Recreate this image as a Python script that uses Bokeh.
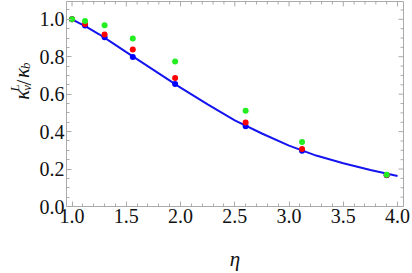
import math
from bokeh.plotting import figure
from bokeh.models import Range1d, FixedTicker, PrintfTickFormatter, LinearAxis, Label
from bokeh.layouts import row
from bokeh.embed import file_html
from bokeh.resources import INLINE

# ---- data ----
eta_pts = [1.0, 1.12, 1.30, 1.56, 1.95, 2.60, 3.12, 3.90]
kappa_blue = [1.0, 0.967, 0.904, 0.798, 0.654, 0.428, 0.298, 0.167]
kappa_red = [1.0, 0.975, 0.919, 0.839, 0.686, 0.449, 0.307, 0.168]
kappa_green = [1.0, 0.991, 0.968, 0.898, 0.774, 0.512, 0.344, 0.170]

curve_eta = [1.0, 1.125, 1.25, 1.375, 1.5, 1.75, 2.0, 2.25, 2.5, 2.75, 3.0, 3.25, 3.5, 3.75, 4.0]
curve_kappa = [1.0, 0.962, 0.92, 0.873, 0.825, 0.73, 0.635, 0.545, 0.46, 0.39, 0.325, 0.272, 0.231, 0.195, 0.163]

x_ticks = [1.0, 1.5, 2.0, 2.5, 3.0, 3.5, 4.0]
x_minor = [1.1, 1.2, 1.3, 1.4, 1.6, 1.7, 1.8, 1.9, 2.1, 2.2, 2.3, 2.4, 2.6, 2.7, 2.8, 2.9,
           3.1, 3.2, 3.3, 3.4, 3.6, 3.7, 3.8, 3.9]
y_ticks = [0.0, 0.2, 0.4, 0.6, 0.8, 1.0]
y_minor = [0.05, 0.1, 0.15, 0.25, 0.3, 0.35, 0.45, 0.5, 0.55, 0.65, 0.7, 0.75,
           0.85, 0.9, 0.95, 1.05]

X0, X1 = 0.949, 4.055
Y0, Y1 = 0.0, 1.095
FRAME = "#aaaaaa"
SERIF = "Liberation Serif"
TXT = "#111111"
TITLE_W = 34
H = 273

# ---------------- main plot ----------------
p = figure(width=412 - TITLE_W, height=H, output_backend="svg", toolbar_location=None,
           x_range=Range1d(X0, X1), y_range=Range1d(Y0, Y1),
           x_axis_type=None, y_axis_type=None,
           min_border_left=66 - TITLE_W, min_border_right=9, min_border_top=1, min_border_bottom=64)
p.outline_line_color = FRAME
p.background_fill_color = "white"
p.border_fill_color = "white"


def make_axis(ticks, minor, label=""):
    ax = LinearAxis(ticker=FixedTicker(ticks=ticks, minor_ticks=minor),
                    formatter=PrintfTickFormatter(format="%.1f"))
    ax.axis_line_color = FRAME
    ax.major_tick_line_color = FRAME
    ax.minor_tick_line_color = FRAME
    ax.major_tick_in = 5
    ax.major_tick_out = 0
    ax.minor_tick_in = 3
    ax.minor_tick_out = 0
    ax.major_label_text_font = SERIF
    ax.major_label_text_font_size = "20px"
    ax.major_label_text_color = TXT
    ax.major_label_standoff = 2
    if label:
        ax.axis_label = label
        ax.axis_label_text_font = SERIF
        ax.axis_label_text_font_style = "italic"
        ax.axis_label_text_font_size = "21px"
        ax.axis_label_text_color = TXT
        ax.axis_label_standoff = 21
    return ax


p.add_layout(make_axis(x_ticks, x_minor, "η"), "below")
p.add_layout(make_axis(y_ticks, y_minor), "left")

p.xgrid.visible = False
p.ygrid.visible = False

# inward ticks on the top and right frame edges (5 px major, 3 px minor)
px_x = (X1 - X0) / 337.0
px_y = (Y1 - Y0) / 208.0
p.segment(x0=x_ticks, y0=[Y1] * len(x_ticks), x1=x_ticks, y1=[Y1 - 5 * px_y] * len(x_ticks),
          line_color=FRAME, line_width=1)
p.segment(x0=x_minor, y0=[Y1] * len(x_minor), x1=x_minor, y1=[Y1 - 3 * px_y] * len(x_minor),
          line_color=FRAME, line_width=1)
p.segment(x0=[X1] * len(y_ticks), y0=y_ticks, x1=[X1 - 5 * px_x] * len(y_ticks), y1=y_ticks,
          line_color=FRAME, line_width=1)
p.segment(x0=[X1] * len(y_minor), y0=y_minor, x1=[X1 - 3 * px_x] * len(y_minor), y1=y_minor,
          line_color=FRAME, line_width=1)

p.line(curve_eta, curve_kappa, line_color="#1414f0", line_width=2)
p.scatter(eta_pts, kappa_blue, size=6, fill_color="#0000ff", line_color=None)
p.scatter(eta_pts, kappa_red, size=6, fill_color="#ff0000", line_color=None)
p.scatter(eta_pts, kappa_green, size=6, fill_color="#22ee22", line_color=None)

# ---------------- y-axis title panel:  κ_v^L / κ_b ----------------
t = figure(width=TITLE_W, height=H, output_backend="svg", toolbar_location=None,
           x_range=Range1d(0, TITLE_W), y_range=Range1d(0, H),
           x_axis_type=None, y_axis_type=None, min_border=0)
t.outline_line_color = None
t.background_fill_color = "white"
t.border_fill_color = "white"
t.xgrid.visible = False
t.ygrid.visible = False

# (text, pixel x of baseline, pixel y from top where the glyph starts, size, style)
pieces = [
    ("κ", 21, 131, "21px", "italic"),
    ("v", 26, 119, "13px", "italic"),
    ("L", 14, 120, "13px", "italic"),
    ("/", 23, 112, "21px", "normal"),
    ("κ", 21, 102, "21px", "italic"),
    ("b", 25, 90, "13px", "italic"),
]
for txt, bx, ty, fs, style in pieces:
    t.add_layout(Label(x=bx, y=H - ty, text=txt, angle=math.pi / 2,
                       text_font=SERIF, text_font_size=fs, text_font_style=style,
                       text_color=TXT, text_align="left", text_baseline="alphabetic"))

layout = row(t, p, spacing=0)
open("out.html", "w").write(file_html(layout, INLINE))
